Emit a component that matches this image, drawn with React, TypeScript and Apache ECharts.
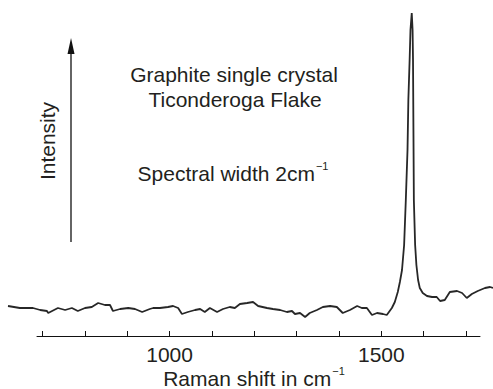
import React, { useEffect, useRef } from "react";
import * as echarts from "echarts";

const ramanShift = [618, 646, 677, 694, 710, 713, 736, 753, 769, 783, 800, 816, 831, 847, 859, 866, 883, 902, 918, 935, 953, 961, 977, 996, 1008, 1020, 1029, 1043, 1060, 1072, 1083, 1095, 1112, 1126, 1142, 1154, 1166, 1183, 1197, 1209, 1230, 1244, 1261, 1277, 1289, 1296, 1308, 1320, 1331, 1348, 1362, 1379, 1395, 1409, 1426, 1443, 1454, 1466, 1478, 1490, 1504, 1513, 1525, 1532, 1539, 1544, 1549, 1554, 1558, 1562, 1564, 1567, 1569, 1572, 1574, 1575, 1576, 1577, 1580, 1583, 1587, 1591, 1598, 1608, 1620, 1631, 1639, 1650, 1662, 1679, 1691, 1702, 1714, 1728, 1745, 1757, 1764];
const intensity = [30, 28, 28, 26, 25, 23, 28, 26, 28, 25, 28, 29, 33, 31, 31, 25, 27, 28, 27, 24, 27, 28, 28, 29, 30, 28, 22, 24, 26, 27, 24, 28, 24, 27, 29, 28, 32, 33, 34, 30, 28, 27, 26, 24, 25, 22, 23, 19, 23, 26, 29, 30, 29, 23, 26, 30, 28, 28, 21, 23, 22, 21, 28, 34, 44, 54, 66, 91, 136, 186, 236, 276, 306, 323, 306, 276, 206, 136, 91, 71, 56, 48, 43, 40, 39, 39, 35, 36, 44, 45, 43, 38, 42, 45, 48, 49, 48];
const tickValues = [700, 800, 900, 1000, 1100, 1200, 1300, 1400, 1500, 1600, 1700];
const labelValues = [1000, 1500];
const xAxisTitle = "Raman shift in cm{sup|−1}";
// visible axis range and full data-area range (same scale)
const axisMin = 687;
const axisMax = 1733;
const plotMin = 618;
const plotMax = 1764;

const FONT = "'Liberation Sans', Arial, Helvetica, sans-serif";
const TXT = "#231f20";
const SUP = { fontSize: 11, fontFamily: FONT, fill: TXT, padding: [0, 0, 14, 1] };

export default function App() {
  const ref = useRef<HTMLDivElement>(null);
  useEffect(() => {
    if (!ref.current) return;
    const chart = echarts.init(ref.current, null, { renderer: "svg" });
    const data = ramanShift.map((x, i) => [x, intensity[i]]);
    chart.setOption({
      animation: false,
      backgroundColor: "#ffffff",
      grid: [
        { left: 8, right: 0, top: 0, bottom: 53, containLabel: false, outerBoundsMode: "none" },
        { left: 37, right: 13, top: 0, bottom: 53, containLabel: false, outerBoundsMode: "none" },
      ],
      xAxis: [
        { type: "value", gridIndex: 0, min: plotMin, max: plotMax, show: false },
        {
          type: "value",
          gridIndex: 1,
          min: axisMin,
          max: axisMax,
          axisLine: { show: true, lineStyle: { color: "#111", width: 1 } },
          axisTick: { show: true, inside: true, length: 5, customValues: tickValues, lineStyle: { color: "#111", width: 1 } },
          axisLabel: {
            show: true,
            customValues: labelValues,
            margin: 8,
            fontFamily: FONT,
            fontSize: 21,
            color: TXT,
            formatter: (v: number) => String(v),
          },
          splitLine: { show: false },
        },
      ],
      yAxis: [
        { type: "value", gridIndex: 0, min: 0, max: 336, show: false },
        { type: "value", gridIndex: 1, min: 0, max: 336, show: false },
      ],
      series: [
        {
          type: "line",
          xAxisIndex: 0,
          yAxisIndex: 0,
          data,
          clip: false,
          showSymbol: false,
          symbol: "none",
          lineStyle: { color: "#272727", width: 1.8 },
        },
      ],
      graphic: [
        { type: "line", shape: { x1: 71, y1: 242, x2: 71, y2: 50 }, style: { stroke: "#111", lineWidth: 1.3 } },
        { type: "polygon", shape: { points: [[71, 38], [67.5, 54], [74.5, 54]] }, style: { fill: "#111" } },
        {
          type: "text", x: 47, y: 141, rotation: Math.PI / 2,
          style: { text: "Intensity", fontFamily: FONT, fontSize: 21, fill: TXT, align: "center", verticalAlign: "middle" },
        },
        {
          type: "text", x: 234, y: 74,
          style: { text: "Graphite single crystal", fontFamily: FONT, fontSize: 21, fill: TXT, align: "center", verticalAlign: "middle" },
        },
        {
          type: "text", x: 235, y: 99,
          style: { text: "Ticonderoga Flake", fontFamily: FONT, fontSize: 21, fill: TXT, align: "center", verticalAlign: "middle" },
        },
        {
          type: "text", x: 233, y: 173,
          style: {
            text: "Spectral width 2cm{sup|−1}", fontFamily: FONT, fontSize: 21, fill: TXT, align: "center", verticalAlign: "middle",
            rich: { sup: SUP },
          },
        },
        {
          type: "text", x: 254, y: 378,
          style: {
            text: xAxisTitle, fontFamily: FONT, fontSize: 21, fill: TXT, align: "center", verticalAlign: "middle",
            rich: { sup: SUP },
          },
        },
      ],
    });
    return () => chart.dispose();
  }, []);
  return <div ref={ref} style={{ position: "fixed", left: 0, top: 0, width: 493, height: 389 }} />;
}
